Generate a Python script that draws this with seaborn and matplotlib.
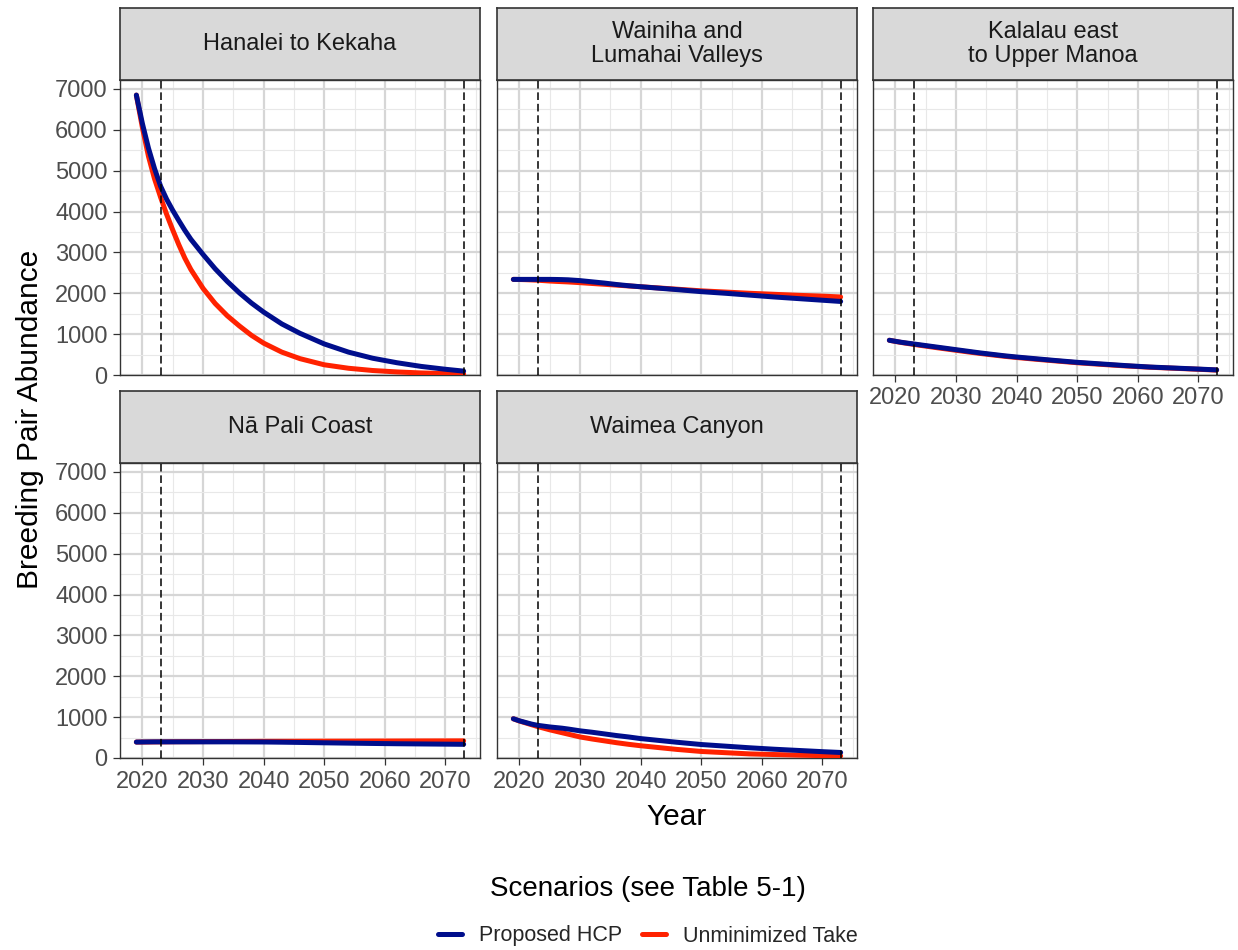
import numpy as np
import pandas as pd
import matplotlib
matplotlib.use("Agg")
import matplotlib.pyplot as plt
from matplotlib.lines import Line2D
from matplotlib.ticker import MultipleLocator
import seaborn as sns

# ---- data -------------------------------------------------------------
years = [2019, 2020, 2021, 2022, 2023, 2024, 2025, 2026, 2027, 2028, 2030, 2032, 2034,
         2036, 2038, 2040, 2043, 2046, 2050, 2054, 2058, 2062, 2066, 2070, 2073]

regions = ["Hanalei to Kekaha", "Wainiha and\nLumahai Valleys", "Kalalau east\nto Upper Manoa",
           "Nā Pali Coast", "Waimea Canyon"]
scenarios = ["Proposed HCP", "Unminimized Take"]

hanalei_hcp = [6850, 6150, 5550, 5050, 4620, 4300, 4030, 3780, 3540, 3320, 2950, 2600, 2290,
               2010, 1760, 1540, 1250, 1020, 760, 560, 410, 300, 210, 140, 95]
hanalei_unmin = [6850, 6050, 5350, 4800, 4350, 3930, 3550, 3190, 2860, 2580, 2120, 1750, 1450,
                 1200, 970, 780, 560, 400, 250, 165, 110, 75, 50, 35, 25]
wainiha_hcp = [2340, 2340, 2340, 2340, 2340, 2340, 2340, 2338, 2335, 2330, 2310, 2280, 2250,
               2215, 2185, 2160, 2125, 2090, 2040, 2000, 1955, 1910, 1870, 1830, 1800]
wainiha_unmin = [2340, 2337, 2333, 2327, 2320, 2310, 2300, 2292, 2285, 2278, 2260, 2240, 2220,
                 2200, 2180, 2160, 2130, 2100, 2060, 2030, 2000, 1975, 1950, 1930, 1910]
kalalau_hcp = [850, 825, 800, 780, 760, 740, 720, 700, 680, 660, 620, 580, 540,
               505, 470, 440, 400, 360, 310, 270, 230, 195, 170, 145, 125]
kalalau_unmin = [850, 822, 795, 772, 750, 728, 707, 686, 665, 645, 605, 565, 527,
                 492, 458, 428, 388, 350, 300, 260, 222, 190, 165, 140, 120]
napali_hcp = [390, 392, 394, 395, 395, 395, 395, 395, 395, 395, 395, 395, 395,
              394, 393, 392, 387, 381, 372, 364, 356, 349, 344, 339, 335]
napali_unmin = [390, 391, 392, 394, 395, 396, 398, 399, 400, 400, 402, 403, 404,
                405, 406, 408, 409, 410, 412, 413, 415, 416, 418, 419, 420]
waimea_hcp = [960, 910, 870, 830, 800, 780, 760, 745, 730, 710, 665, 630, 590,
              550, 515, 475, 430, 385, 330, 290, 250, 215, 185, 155, 135]
waimea_unmin = [960, 905, 860, 815, 770, 730, 690, 655, 620, 585, 515, 465, 420,
                375, 335, 300, 255, 210, 160, 130, 100, 85, 70, 58, 50]

series = {
    regions[0]: (hanalei_hcp, hanalei_unmin),
    regions[1]: (wainiha_hcp, wainiha_unmin),
    regions[2]: (kalalau_hcp, kalalau_unmin),
    regions[3]: (napali_hcp, napali_unmin),
    regions[4]: (waimea_hcp, waimea_unmin),
}

period_bounds = [2023, 2073]

rows = []
for region, (hcp, unmin) in series.items():
    for sc, vals in zip(scenarios, (hcp, unmin)):
        for yr, v in zip(years, vals):
            rows.append({"Region": region, "Scenario": sc, "Year": yr, "Abundance": v})
df = pd.DataFrame(rows)

# ---- style ------------------------------------------------------------
sns.set_style("white")
plt.rcParams["font.family"] = ["Liberation Sans", "DejaVu Sans"]

palette = {"Proposed HCP": "#000e8c", "Unminimized Take": "#ff2200"}
draw_order = ["Unminimized Take", "Proposed HCP"]

W, H = 1238, 950
fig = plt.figure(figsize=(W / 100, H / 100), dpi=100)

col_left = [120, 497, 873]
panel_w = 360
row_top = [80, 463]
panel_h = 295
strip_h = 72

border = "#333333"
tick_col = "#4d4d4d"
tick_fs = 17

def frac_box(x, y_top, w, h):
    return [x / W, 1 - (y_top + h) / H, w / W, h / H]

for i, region in enumerate(regions):
    r, c = divmod(i, 3)
    ax = fig.add_axes(frac_box(col_left[c], row_top[r], panel_w, panel_h))
    sub = df[df["Region"] == region]
    sns.lineplot(data=sub, x="Year", y="Abundance", hue="Scenario", hue_order=draw_order,
                 palette=palette, linewidth=3.6, ax=ax, legend=False, zorder=3)
    for b in period_bounds:
        ax.axvline(b, color="black", linewidth=1.1, linestyle=(0, (5, 2.5)), zorder=4)

    ax.set_xlim(2016.3, 2075.7)
    ax.set_ylim(0, 7220)
    ax.xaxis.set_major_locator(MultipleLocator(10))
    ax.xaxis.set_minor_locator(MultipleLocator(5))
    ax.yaxis.set_major_locator(MultipleLocator(1000))
    ax.yaxis.set_minor_locator(MultipleLocator(500))
    ax.grid(which="major", color="#d6d6d6", linewidth=1.6, zorder=0)
    ax.grid(which="minor", color="#e8e8e8", linewidth=0.8, zorder=0)
    ax.set_axisbelow(True)
    for s in ax.spines.values():
        s.set_color(border)
        s.set_linewidth(1.0)
    ax.set_xlabel("")
    ax.set_ylabel("")
    ax.tick_params(which="major", length=5, width=0.9, color=border, labelsize=tick_fs,
                   labelcolor=tick_col, pad=4)
    ax.tick_params(which="minor", length=0)
    show_x = (r == 1) or (c == 2)
    ax.tick_params(axis="x", labelbottom=show_x, bottom=show_x)
    ax.tick_params(axis="y", labelleft=(c == 0), left=(c == 0))

    # facet strip
    sax = fig.add_axes(frac_box(col_left[c], row_top[r] - strip_h, panel_w, strip_h))
    sax.set_facecolor("#d9d9d9")
    sax.set_xticks([])
    sax.set_yticks([])
    for s in sax.spines.values():
        s.set_color(border)
        s.set_linewidth(1.2)
    sax.text(0.5, 0.5, region, ha="center", va="center", fontsize=tick_fs, color="#1a1a1a",
             linespacing=1.08, transform=sax.transAxes)

fig.text(30 / W, 1 - 419 / H, "Breeding Pair Abundance", rotation=90, ha="center", va="center",
         fontsize=21.5, color="black")
fig.text(677 / W, 1 - 817 / H, "Year", ha="center", va="center", fontsize=21.5, color="black")

fig.text(648 / W, 1 - 889 / H, "Scenarios (see Table 5-1)", ha="center", va="center",
         fontsize=20, color="black")
handles = [Line2D([0], [0], color=palette[s], linewidth=3.6) for s in scenarios]
fig.legend(handles, scenarios, loc="center", bbox_to_anchor=(648 / W, 1 - 936 / H), ncol=2,
           frameon=False, fontsize=15.5, handlelength=1.1, handletextpad=0.8, columnspacing=0.9)

fig.savefig("out.png", dpi=100, facecolor="white")
